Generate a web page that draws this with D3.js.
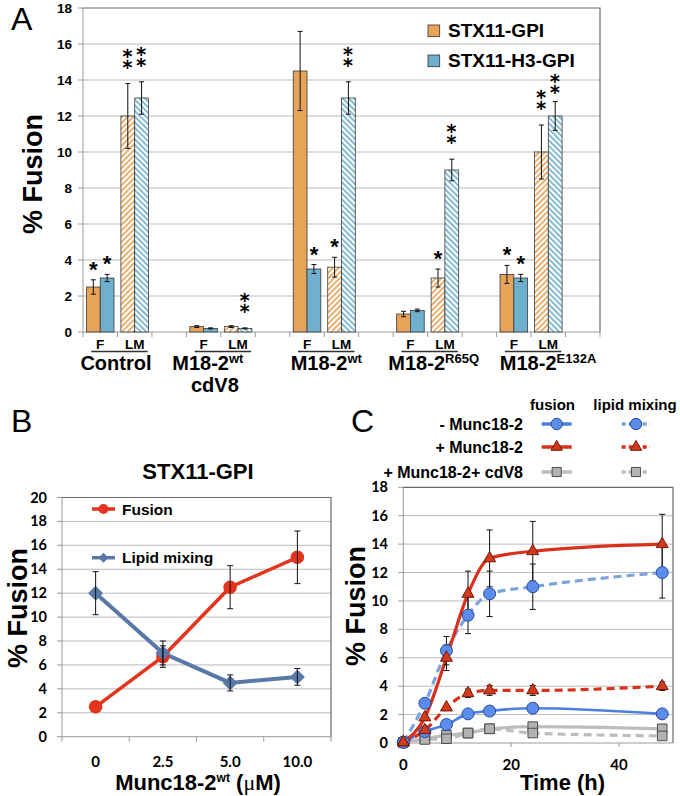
<!DOCTYPE html>
<html><head><meta charset="utf-8">
<script src="https://cdn.jsdelivr.net/npm/d3@7"></script>
<style>body{margin:0;background:#fff} svg{display:block} text{font-family:"Liberation Sans",Arial,sans-serif}</style>
</head><body><svg id="c" width="680" height="796"></svg>
<script>
// ---------------- Panel A data ----------------
const groupsA = ["Control","M18-2wt cdV8","M18-2wt","M18-2R65Q","M18-2E132A"];
const groupBase = ["Control","M18-2","M18-2","M18-2","M18-2"];
const groupSup = ["","wt","wt","R65Q","E132A"];
const groupSecond = ["","cdV8","","",""];
const subLabels = ["F","LM"];
const seriesA = ["STX11-GPI","STX11-H3-GPI"];
const stxF=[2.5,0.3,14.5,1.0,3.2], stxFErr=[0.4,0.05,2.2,0.15,0.5];
const h3F=[3.0,0.2,3.5,1.2,3.0], h3FErr=[0.2,0.03,0.25,0.07,0.2];
const stxLM=[12,0.3,3.6,3.0,10], stxLMErr=[1.8,0.05,0.55,0.5,1.5];
const h3LM=[13,0.2,13,9.0,12], h3LMErr=[0.9,0.03,0.9,0.6,0.8];
const starsStxF=["*","","","","*"], starsH3F=["*","","*","","*"];
const starsStxLM=["**","","*","*","**"], starsH3LM=["**","**","**","**","**"];
const ticksA = [0,2,4,6,8,10,12,14,16,18];

// ---------------- Panel B data ----------------
const concB = ["0","2.5","5.0","10.0"];
const fusionB=[2.5,6.7,12.5,15.0], fusionBErr=[0,0.9,1.8,2.2];
const lipidB=[12,7.0,4.5,5.0], lipidBErr=[1.8,1.0,0.67,0.7];
const ticksB = [0,2,4,6,8,10,12,14,16,18,20];

// ---------------- Panel C data ----------------
const timeC=[0,4,8,12,16,24,48];
const minusFusion=[0.05,0.8,1.3,2.05,2.25,2.45,2.05];
const minusLipid=[0.05,2.8,6.5,9.0,10.5,11.0,12.0], minusLipidErr=[0,0,1.0,1.3,1.6,1.6,1.8];
const plusFusion=[0.05,1.8,6.0,10.5,13.0,13.5,14.0], plusFusionErr=[0,0,0.9,1.6,2.0,2.1,2.1];
const plusLipid=[0.05,0.9,2.5,3.5,3.7,3.7,4.0], plusLipidErr=[0,0,0,0.3,0.35,0.35,0.3];
const cdFusion=[0.05,0.3,0.55,0.7,1.0,1.15,1.0];
const cdLipid=[0.05,0.25,0.3,0.7,1.0,0.7,0.5];
const ticksCy=[0,2,4,6,8,10,12,14,16,18];
const ticksCx=[0,20,40];

// ---------------- common ----------------
const svg = d3.select("#c");
const TF = "Lato, 'Liberation Sans', sans-serif";
const GRID="#BBBBBB", BORDER="#6a6a6a", AXIS="#9a9a9a";
const ORANGE="#E7A358", BLUE="#6FB1CC";
const defs = svg.append("defs");
function hatch(id,color,angle){
  const p=defs.append("pattern").attr("id",id).attr("patternUnits","userSpaceOnUse")
    .attr("width",4).attr("height",4).attr("patternTransform",`rotate(${angle})`);
  p.append("rect").attr("width",4).attr("height",4).attr("fill","#fff");
  p.append("rect").attr("width",1.7).attr("height",4).attr("fill",color);
}
hatch("hO",ORANGE,45); hatch("hB",BLUE,-45);

function frame(g,box,y,ticks,labelX,tickFont,fam,dy){
  g.append("g").selectAll("line").data(ticks.slice(1,-1)).join("line")
    .attr("x1",box.l).attr("x2",box.r).attr("y1",d=>y(d)).attr("y2",d=>y(d))
    .attr("stroke",GRID).attr("stroke-width",1);
  g.append("g").selectAll("line").data(ticks).join("line")
    .attr("x1",box.l-5).attr("x2",box.l).attr("y1",d=>y(d)).attr("y2",d=>y(d))
    .attr("stroke",AXIS);
  g.append("line").attr("x1",box.l).attr("x2",box.r).attr("y1",box.b).attr("y2",box.b).attr("stroke",AXIS);
  g.append("line").attr("x1",box.l).attr("x2",box.l).attr("y1",box.t).attr("y2",box.b).attr("stroke",AXIS);
  g.append("path").attr("d",`M${box.l},${box.t}H${box.r}V${box.b}`).attr("fill","none").attr("stroke",BORDER).attr("stroke-width",1.2);
  g.append("g").selectAll("text").data(ticks).join("text")
    .attr("x",labelX).attr("y",d=>y(d)+dy).attr("text-anchor","end")
    .style("font-family",fam).style("font-weight","bold").style("font-size",tickFont+"px").text(d=>d);
}
function ylabel(x,y){
  svg.append("text").attr("transform",`translate(${x},${y}) rotate(-90)`).attr("text-anchor","middle")
    .style("font-weight","bold").style("font-size","27px").text("% Fusion");
}
function errbar(g,x,y0,y1,cap){
  g.append("line").attr("x1",x).attr("x2",x).attr("y1",y0).attr("y2",y1).attr("stroke","#111").attr("stroke-width",1);
  [y0,y1].forEach(yy=>g.append("line").attr("x1",x-cap).attr("x2",x+cap).attr("y1",yy).attr("y2",yy).attr("stroke","#111").attr("stroke-width",1));
}

// ================= Panel A =================
const A = {l:83, r:600, t:8, b:332};
const slots=[]; groupsA.forEach((g,i)=>{slots.push(i+"F",i+"LM",i+"gap");});
const xA = d3.scaleBand().domain(slots).range([A.l,A.r]);
const xIn = d3.scaleBand().domain(seriesA).range([0,xA.bandwidth()]).paddingOuter(0.25);
const yA = d3.scaleLinear().domain([0,18]).range([A.b,A.t]);
const gA = svg.append("g");
frame(gA,A,yA,ticksA,72,13.5,"'Liberation Sans',Arial,sans-serif",4.6);
gA.append("g").selectAll("line").data(slots.map(s=>xA(s)).concat([A.r])).join("line")
  .attr("x1",d=>d).attr("x2",d=>d).attr("y1",A.b).attr("y2",A.b+5).attr("stroke",AXIS);

const barsA=[];
groupsA.forEach((g,i)=>{
  barsA.push({slot:i+"F",s:seriesA[0],v:stxF[i],e:stxFErr[i],st:starsStxF[i],fill:ORANGE});
  barsA.push({slot:i+"F",s:seriesA[1],v:h3F[i],e:h3FErr[i],st:starsH3F[i],fill:BLUE});
  barsA.push({slot:i+"LM",s:seriesA[0],v:stxLM[i],e:stxLMErr[i],st:starsStxLM[i],fill:"url(#hO)"});
  barsA.push({slot:i+"LM",s:seriesA[1],v:h3LM[i],e:h3LMErr[i],st:starsH3LM[i],fill:"url(#hB)"});
});
gA.append("g").selectAll("rect").data(barsA).join("rect")
  .attr("x",d=>xA(d.slot)+xIn(d.s)).attr("width",xIn.bandwidth())
  .attr("y",d=>yA(d.v)).attr("height",d=>yA(0)-yA(d.v))
  .attr("fill",d=>d.fill).attr("stroke","#3a3a3a").attr("stroke-width",0.8);
barsA.forEach(d=>{
  const cx=xA(d.slot)+xIn(d.s)+xIn.bandwidth()/2;
  errbar(gA,cx,yA(d.v-d.e),yA(d.v+d.e),2.5);
  const top=yA(d.v+d.e);
  if(d.st==="*"){
    gA.append("text").attr("x",cx).attr("y",top-15+12).attr("text-anchor","middle")
      .style("font-weight","bold").style("font-size","22px").text("*");
  } else if(d.st==="**"){
    // two asterisks aligned vertically (U+2051); keep clear of the legend
    let base=top-15;
    if(cx>425) base=Math.max(base,94);
    gA.append("text").attr("x",cx).attr("y",base).attr("text-anchor","middle")
      .style("font-family","'DejaVu Sans',sans-serif").style("font-weight","bold").style("font-size","24px").text("\u2051");
  }
});
const labelShift=[-1.5,-13,2,6,17];
groupsA.forEach((g,i)=>{
  subLabels.forEach(s=>{
    gA.append("text").attr("x",xA(i+s)+xA.bandwidth()/2).attr("y",348.5).attr("text-anchor","middle")
      .style("font-weight","bold").style("font-size","13.5px").text(s);
  });
  const x0=xA(i+"F")+xA.bandwidth()/2-9, x1=xA(i+"LM")+xA.bandwidth()/2+13;
  gA.append("line").attr("x1",x0).attr("x2",x1).attr("y1",351.5).attr("y2",351.5).attr("stroke","#333").attr("stroke-width",1.3);
  const t=gA.append("text").attr("x",xA(i+"LM")+labelShift[i]).attr("y",370).attr("text-anchor","middle")
    .style("font-weight","bold").style("font-size","20px");
  t.append("tspan").text(groupBase[i]);
  if(groupSup[i]) t.append("tspan").attr("dy",-7.5).style("font-size","13px").text(groupSup[i]);
  if(groupSecond[i]) gA.append("text").attr("x",xA(i+"LM")-6).attr("y",392).attr("text-anchor","middle")
    .style("font-weight","bold").style("font-size","20px").text(groupSecond[i]);
});
[[ORANGE,seriesA[0],25],[BLUE,seriesA[1],55]].forEach(([c,t,y])=>{
  gA.append("rect").attr("x",428).attr("y",y).attr("width",11.7).attr("height",11.7).attr("fill",c).attr("stroke","#333").attr("stroke-width",0.8);
  gA.append("text").attr("x",448).attr("y",y+11.7).style("font-weight","bold").style("font-size","19px").text(t);
});
svg.append("text").attr("x",11).attr("y",30).style("font-size","32px").text("A");
ylabel(42,174);

// ================= Panel B =================
const B = {l:62, r:331, t:497.5, b:736.7};
const xB = d3.scaleBand().domain(concB).range([B.l,B.r]);
const yB = d3.scaleLinear().domain([0,20]).range([B.b,B.t]);
const gB = svg.append("g");
frame(gB,B,yB,ticksB,47,14.5,TF,5);
gB.append("g").selectAll("line").data(concB.map(c=>xB(c)).concat([B.r])).join("line")
  .attr("x1",d=>d).attr("x2",d=>d).attr("y1",B.b).attr("y2",B.b+5).attr("stroke",AXIS);
gB.append("g").selectAll("text").data(concB).join("text")
  .attr("x",d=>xB(d)+xB.bandwidth()/2).attr("y",767).attr("text-anchor","middle")
  .style("font-family",TF).style("font-weight","bold").style("font-size","15px").text(d=>d);
const cxB=d=>xB(d)+xB.bandwidth()/2;
const RED_B="#E3351D", BLUE_B="#5879A8";
const lineB=d3.line().x((d,i)=>cxB(concB[i])).y(d=>yB(d));
gB.append("path").attr("d",lineB(lipidB)).attr("fill","none").attr("stroke",BLUE_B).attr("stroke-width",4);
gB.append("path").attr("d",lineB(fusionB)).attr("fill","none").attr("stroke",RED_B).attr("stroke-width",3.5);
fusionB.forEach((v,i)=>gB.append("circle").attr("cx",cxB(concB[i])).attr("cy",yB(v)).attr("r",6.8).attr("fill",RED_B));
lipidB.forEach((v,i)=>gB.append("path").attr("d",d3.symbol(d3.symbolSquare,112)())
  .attr("transform",`translate(${cxB(concB[i])},${yB(v)}) rotate(45)`).attr("fill",BLUE_B));
fusionB.forEach((v,i)=>{ if(fusionBErr[i]>0) errbar(gB,cxB(concB[i]),yB(v-fusionBErr[i]),yB(v+fusionBErr[i]),3);});
lipidB.forEach((v,i)=>{ if(lipidBErr[i]>0) errbar(gB,cxB(concB[i]),yB(v-lipidBErr[i]),yB(v+lipidBErr[i]),3);});
gB.append("line").attr("x1",92).attr("x2",115).attr("y1",509).attr("y2",509).attr("stroke",RED_B).attr("stroke-width",3.5);
gB.append("circle").attr("cx",103.5).attr("cy",509).attr("r",5).attr("fill",RED_B);
gB.append("text").attr("x",122).attr("y",514.5).style("font-weight","bold").style("font-size","15.5px").text("Fusion");
gB.append("line").attr("x1",92).attr("x2",115).attr("y1",557.7).attr("y2",557.7).attr("stroke",BLUE_B).attr("stroke-width",3.5);
gB.append("path").attr("d",d3.symbol(d3.symbolSquare,50)()).attr("transform","translate(103.5,557.7) rotate(45)").attr("fill",BLUE_B);
gB.append("text").attr("x",122).attr("y",563).style("font-weight","bold").style("font-size","15.5px").text("Lipid mixing");
gB.append("text").attr("x",198).attr("y",479).attr("text-anchor","middle").style("font-weight","bold").style("font-size","22px").text("STX11-GPI");
const xlB=gB.append("text").attr("x",198).attr("y",790).attr("text-anchor","middle").style("font-weight","bold").style("font-size","22px");
xlB.append("tspan").text("Munc18-2");
xlB.append("tspan").attr("dy",-8).style("font-size","12px").text("wt");
xlB.append("tspan").attr("dy",8).text(" (");
xlB.append("tspan").style("font-family","'Liberation Serif',serif").style("font-weight","normal").text("μ");
xlB.append("tspan").text("M)");
svg.append("text").attr("x",11).attr("y",432).style("font-size","32px").text("B");
ylabel(27,608);

// ================= Panel C =================
const C = {l:403.3, r:673, t:487.3, b:743};
const xC = d3.scaleLinear().domain([0,50]).range([C.l,C.r]);
const yC = d3.scaleLinear().domain([0,18]).range([C.b,C.t]);
const gC = svg.append("g");
frame(gC,C,yC,ticksCy,388,14.5,TF,5);
gC.append("g").selectAll("line").data(ticksCx).join("line")
  .attr("x1",d=>xC(d)).attr("x2",d=>xC(d)).attr("y1",C.b).attr("y2",C.b+4).attr("stroke",AXIS);
gC.append("g").selectAll("text").data(ticksCx).join("text")
  .attr("x",d=>xC(d)).attr("y",770).attr("text-anchor","middle")
  .style("font-family",TF).style("font-weight","bold").style("font-size","15px").text(d=>d);
gC.append("text").attr("x",562.5).attr("y",790).attr("text-anchor","middle").style("font-weight","bold").style("font-size","22px").text("Time (h)");
svg.append("text").attr("x",351).attr("y",432).style("font-size","32px").text("C");
ylabel(365,606);

const BL={fill:"#5B8DEF",stroke:"#2B4A8F",solid:"#4D7FE3",dash:"#7DA3DD"};
const RD={fill:"#D33A1C",stroke:"#6E1A0C",solid:"#D8301A",dash:"#D8301A"};
const GY={fill:"#B3B3B3",stroke:"#4D4D4D",solid:"#BDBDBD",dash:"#BDBDBD"};
const seriesC=[
  {v:cdFusion,err:null,c:GY,dash:false,m:"sq"},
  {v:cdLipid,err:null,c:GY,dash:true,m:"sq"},
  {v:minusFusion,err:null,c:BL,dash:false,m:"ci"},
  {v:minusLipid,err:minusLipidErr,c:BL,dash:true,m:"ci"},
  {v:plusLipid,err:plusLipidErr,c:RD,dash:true,m:"tr"},
  {v:plusFusion,err:plusFusionErr,c:RD,dash:false,m:"tr"}
];
const lineC=d3.line().x((d,i)=>xC(timeC[i])).y(d=>yC(d)).curve(d3.curveMonotoneX);
seriesC.forEach(s=>{
  gC.append("path").attr("d",lineC(s.v)).attr("fill","none")
    .attr("stroke",s.dash?s.c.dash:s.c.solid).attr("stroke-width",s.c===BL&&!s.dash?2.6:3.2)
    .attr("stroke-dasharray",s.dash?"8,5":null);
});
seriesC.forEach(s=>{ if(s.err) s.v.forEach((v,i)=>{ if(s.err[i]>0) errbar(gC,xC(timeC[i]),yC(v-s.err[i]),yC(v+s.err[i]),3);});});
function marker(g,m,c,x,y,scale){
  scale=scale||1;
  if(m==="ci") return g.append("circle").attr("cx",x).attr("cy",y).attr("r",6*scale).attr("fill",c.fill).attr("stroke",c.stroke).attr("stroke-width",1);
  const sym = m==="sq"? d3.symbol(d3.symbolSquare,92*scale*scale) : d3.symbol(d3.symbolTriangle,62*scale*scale);
  return g.append("path").attr("d",sym()).attr("transform",`translate(${x},${y})`).attr("fill",c.fill).attr("stroke",c.stroke).attr("stroke-width",1);
}
["sq","ci","tr"].forEach(m=>seriesC.filter(s=>s.m===m).forEach(s=>s.v.forEach((v,i)=>marker(gC,m,s.c,xC(timeC[i]),yC(v)))));

gC.append("text").attr("x",552.5).attr("y",410).attr("text-anchor","middle").style("font-weight","bold").style("font-size","15px").text("fusion");
gC.append("text").attr("x",635).attr("y",410).attr("text-anchor","middle").style("font-weight","bold").style("font-size","15px").text("lipid mixing");
const legC=[["- Munc18-2",BL,"ci",424],["+ Munc18-2",RD,"tr",447],["+ Munc18-2+ cdV8",GY,"sq",472]];
legC.forEach(([t,c,m,y])=>{
  gC.append("text").attr("x",523).attr("y",y+5.5).attr("text-anchor","end").style("font-weight","bold").style("font-size","16px").text(t);
  gC.append("line").attr("x1",541.7).attr("x2",571.7).attr("y1",y).attr("y2",y).attr("stroke",c.solid).attr("stroke-width",3.5);
  marker(gC,m,c,556.7,y,0.95);
  gC.append("line").attr("x1",621.7).attr("x2",650).attr("y1",y).attr("y2",y).attr("stroke",c.dash).attr("stroke-width",3.5).attr("stroke-dasharray","4,3");
  marker(gC,m,c,636,y,0.95);
});
</script></body></html>
